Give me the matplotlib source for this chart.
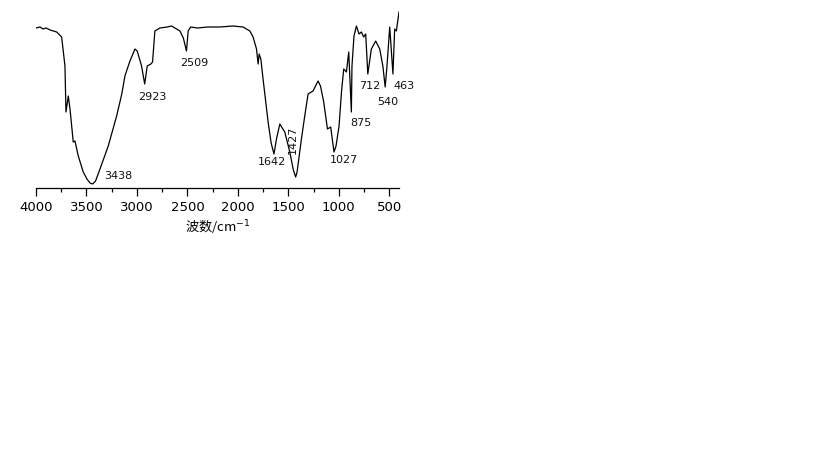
import numpy as np
import matplotlib
matplotlib.use("Agg")
import matplotlib.pyplot as plt
from matplotlib.ticker import MultipleLocator

plt.rcParams['font.family'] = ['DejaVu Sans', 'Noto Sans CJK SC']

# spectrum (wavenumber cm-1, relative transmittance)
wn = [4000, 3960, 3930, 3900, 3860, 3795, 3746, 3713, 3703, 3680, 3663, 3631,
      3614, 3581, 3532, 3495, 3465, 3438, 3410, 3366, 3284, 3201, 3150, 3119,
      3069, 3020, 2997, 2954, 2923, 2898, 2862, 2845, 2822, 2772, 2700, 2657,
      2574, 2540, 2509, 2492, 2468, 2400, 2300, 2178, 2050, 1948, 1881, 1849,
      1815, 1799, 1789, 1772, 1750, 1700, 1670, 1642, 1617, 1584, 1560, 1535,
      1485, 1450, 1427, 1413, 1370, 1337, 1304, 1255, 1205, 1181, 1149, 1112,
      1080, 1047, 1027, 997, 973, 951, 924, 901, 875, 869, 849, 825, 799,
      776, 753, 733, 712, 677, 634, 594, 563, 540, 522, 495, 463, 446, 429, 403]
trans = [160, 161, 159, 160, 158, 156, 151, 122, 76, 92, 79, 46,
         47, 32, 16, 9, 5, 4, 7, 19, 42, 72, 94, 112,
         127, 139, 137, 122, 104, 122, 124, 126, 157, 160, 161, 162,
         157, 150, 137, 157, 161, 160, 161, 161, 162, 161, 157, 151,
         139, 124, 134, 129, 109, 66, 45, 34, 49, 64, 60, 56,
         36, 18, 11, 16, 49, 72, 94, 97, 107, 102, 86, 59,
         61, 36, 42, 62, 96, 119, 116, 136, 76, 122, 152, 162, 154,
         156, 151, 154, 114, 139, 147, 139, 122, 101, 122, 161, 114, 159, 157, 176]

peaks = ["3438", "2923", "2509", "1642", "1427", "1027", "875", "712", "540", "463"]

fig = plt.figure(figsize=(8.19, 4.60), dpi=100)
ax = fig.add_axes([36 / 819, 1 - 189 / 460, (399 - 36) / 819, (189 - 10) / 460])
ax.plot(wn, trans, color="black", lw=0.9)

ax.set_xlim(4000, 403)
ax.set_ylim(0, 179)

# label positions (wn, T, rotation)
pos = [(3188, 13, 0), (2852, 92, 0), (2436, 126, 0), (1664, 27, 0), (1456, 49, 90),
       (951, 29, 0), (782, 66, 0), (693, 103, 0), (515, 87, 0), (357, 103, 0)]
for lab, (x, y, r) in zip(peaks, pos):
    ax.text(x, y, lab, fontsize=8, ha="center", va="center", rotation=r, color="#111111")

for s in ["top", "left", "right"]:
    ax.spines[s].set_visible(False)
ax.spines["bottom"].set_linewidth(0.9)
ax.set_yticks([])
ax.xaxis.set_major_locator(MultipleLocator(500))
ax.xaxis.set_minor_locator(MultipleLocator(250))
ax.tick_params(axis="x", which="major", direction="out", length=6, width=0.9, labelsize=9.5, pad=3)
ax.tick_params(axis="x", which="minor", direction="out", length=3, width=0.9)
ax.set_xlabel("波数/cm$^{-1}$", fontsize=9.5, family=['Noto Sans CJK SC', 'DejaVu Sans'], labelpad=3)

fig.savefig("out.png", dpi=100)
